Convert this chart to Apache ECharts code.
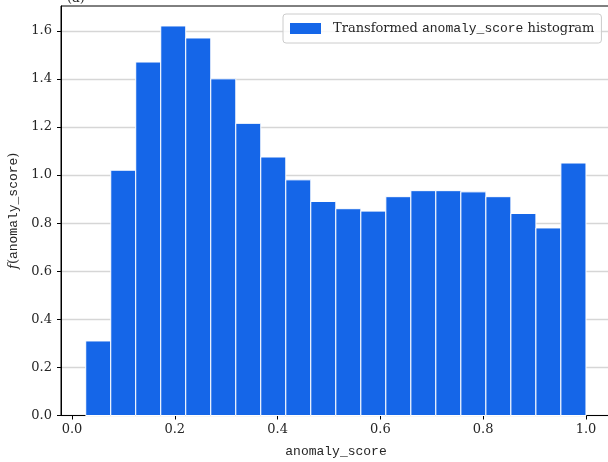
<!DOCTYPE html>
<html>
<head>
<meta charset="utf-8">
<script src="https://cdn.jsdelivr.net/npm/echarts@6/dist/echarts.min.js"></script>
<style>
  html, body { margin: 0; padding: 0; background: #ffffff; }
  #chart { width: 608px; height: 462px; }
</style>
</head>
<body>
<div id="chart"></div>
<script>
// Histogram bin edges
const binEdges = [0.0267, 0.0754, 0.1240, 0.1727, 0.2213, 0.2700, 0.3187, 0.3673,
  0.4160, 0.4646, 0.5133, 0.5620, 0.6106, 0.6593, 0.7079, 0.7566, 0.8053, 0.8539,
  0.9026, 0.9512, 1.0000];
// Density per bin
const density = [0.31, 1.02, 1.47, 1.62, 1.57, 1.40, 1.215, 1.075, 0.98, 0.89,
  0.86, 0.85, 0.91, 0.935, 0.935, 0.93, 0.91, 0.84, 0.78, 1.05];
const xTicks = [0.0, 0.2, 0.4, 0.6, 0.8, 1.0];
const yTicks = [0.0, 0.2, 0.4, 0.6, 0.8, 1.0, 1.2, 1.4, 1.6];

const seriesName = 'Transformed anomaly_score histogram';
const barColor = '#1566e8';

const data = density.map((v, i) => [binEdges[i], binEdges[i + 1], v]);

const serif = 'DejaVu Serif';
const mono = 'Liberation Mono';
const textColor = '#262626';

const chart = echarts.init(document.getElementById('chart'), null, { renderer: 'canvas' });

function fmtTick(v, ticks) {
  for (const t of ticks) { if (Math.abs(v - t) < 1e-6) return t.toFixed(1); }
  return '';
}

chart.setOption({
  animation: false,
  backgroundColor: '#ffffff',
  title: {
    text: '(a)',
    left: 62,
    top: -13,
    textStyle: { fontFamily: serif, fontSize: 13, fontWeight: 'normal', color: textColor }
  },
  grid: {
    left: 61, top: 6, width: 550, height: 409.5,
    outerBoundsMode: 'none', containLabel: false,
    show: true, borderColor: '#000', borderWidth: 1, backgroundColor: 'transparent'
  },
  legend: {
    data: [seriesName],
    left: 283,
    top: 14,
    padding: [8, 7, 8, 7],
    itemWidth: 31,
    itemHeight: 11,
    icon: 'rect',
    borderColor: '#cccccc',
    borderWidth: 1,
    borderRadius: 3,
    backgroundColor: 'rgba(255,255,255,0.8)',
    formatter: function () { return '{s|Transformed }{m|anomaly_score}{s| histogram}'; },
    textStyle: {
      padding: [0, 0, 0, 7],
      rich: {
        s: { fontFamily: serif, fontSize: 13, color: textColor },
        m: { fontFamily: mono, fontSize: 13, color: textColor }
      }
    }
  },
  xAxis: {
    type: 'value',
    min: -0.0214,
    max: 1.0487,
    interval: 0.2,
    name: 'anomaly_score',
    nameLocation: 'middle',
    nameGap: 30,
    nameTextStyle: { fontFamily: mono, fontSize: 13, color: textColor },
    axisLine: { show: true, onZero: false, lineStyle: { color: '#000', width: 1 } },
    axisTick: {
      show: true, length: 4, inside: false, lineStyle: { color: '#000', width: 1 },
      customValues: xTicks
    },
    axisLabel: {
      fontFamily: serif, fontSize: 13, color: textColor, margin: 8,
      customValues: xTicks,
      formatter: v => fmtTick(v, xTicks)
    },
    splitLine: { show: false }
  },
  yAxis: {
    type: 'value',
    min: 0,
    max: 1.703,
    interval: 0.2,
    name: '{i|f}{s|(}{m|anomaly_score}{s|)}',
    nameLocation: 'middle',
    nameGap: 30,
    nameRotate: 90,
    nameTextStyle: {
      rich: {
        i: { fontFamily: serif, fontStyle: 'italic', fontSize: 13, color: textColor },
        s: { fontFamily: serif, fontSize: 13, color: textColor },
        m: { fontFamily: mono, fontSize: 13, color: textColor }
      }
    },
    axisLine: { show: true, onZero: false, lineStyle: { color: '#000', width: 1 } },
    axisTick: {
      show: true, length: 4, inside: false, lineStyle: { color: '#000', width: 1 },
      customValues: yTicks
    },
    axisLabel: {
      fontFamily: serif, fontSize: 13, color: textColor, margin: 9,
      customValues: yTicks,
      formatter: v => fmtTick(v, yTicks)
    },
    splitLine: { show: true, lineStyle: { color: '#d6d6d6', width: 1.3 } }
  },
  series: [{
    name: seriesName,
    type: 'custom',
    itemStyle: { color: barColor },
    encode: { x: [0, 1], y: 2 },
    data: data,
    renderItem: function (params, api) {
      const x0 = api.value(0), x1 = api.value(1), v = api.value(2);
      const p0 = api.coord([x0, v]);
      const p1 = api.coord([x1, 0]);
      return {
        type: 'rect',
        shape: { x: p0[0], y: p0[1], width: p1[0] - p0[0], height: p1[1] - p0[1] },
        style: { fill: barColor, stroke: '#ffffff', lineWidth: 1 }
      };
    }
  }]
});
</script>
</body>
</html>
